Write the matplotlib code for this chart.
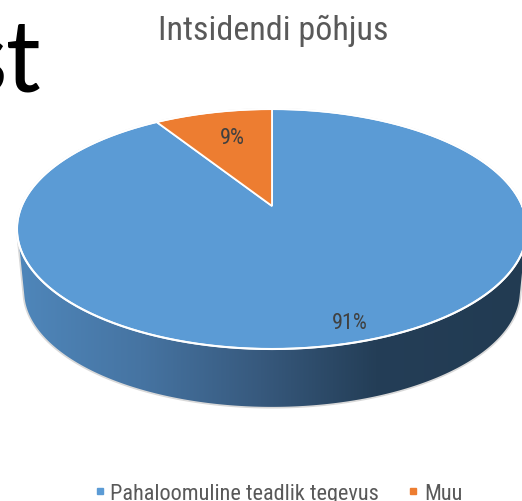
import numpy as np
import matplotlib
matplotlib.use("Agg")
import matplotlib.pyplot as plt
from matplotlib.patches import Polygon
from matplotlib.colors import LinearSegmentedColormap

# data
labels = ["Pahaloomuline teadlik tegevus", "Muu"]
values = [91, 9]
pct_text = ["91%", "9%"]
title = "Intsidendi põhjus"

colors = ["#5B9BD5", "#ED7D31"]
narrow = ["Roboto Condensed", "DejaVu Sans"]

# perspective pie geometry (pixels)
cx, cy = 272, 207
A, B, p = 250.3, 115.6, 0.1917
depth, shrink = 63, 0.975


def proj(theta, r=1.0, bottom=False):
    t = np.radians(theta)
    u, v = r * np.cos(t), r * np.sin(t)
    w = 1 + p * v
    dx, dy = A * u / w, -B * v / w
    if bottom:
        return cx + dx * shrink, cy + dy * 0.97 + depth
    return cx + dx, cy + dy


def hull(pts):
    pts = sorted(map(tuple, pts))
    def cross(o, a, b):
        return (a[0] - o[0]) * (b[1] - o[1]) - (a[1] - o[1]) * (b[0] - o[0])
    lower, upper = [], []
    for q in pts:
        while len(lower) >= 2 and cross(lower[-2], lower[-1], q) <= 0:
            lower.pop()
        lower.append(q)
    for q in reversed(pts):
        while len(upper) >= 2 and cross(upper[-2], upper[-1], q) <= 0:
            upper.pop()
        upper.append(q)
    return lower[:-1] + upper[:-1]


fig = plt.figure(figsize=(5.22, 5.02), dpi=100)
ax = fig.add_axes([0, 0, 1, 1])
ax.set_xlim(0, 522)
ax.set_ylim(502, 0)
ax.axis("off")

th = np.linspace(0, 360, 721)
top = np.array([proj(t) for t in th])
bot = np.array([proj(t, bottom=True) for t in th])
sil = np.array(hull(np.vstack([top, bot])))

# side with horizontal shading
side_cmap = LinearSegmentedColormap.from_list(
    "side", [(0, "#5089BE"), (0.27, "#4674A2"), (0.5, "#37597D"),
             (0.72, "#243E57"), (1, "#223B52")])
grad = np.linspace(0, 1, 256).reshape(1, -1)
im = ax.imshow(grad, cmap=side_cmap, aspect="auto",
               extent=[0, 522, 420, 200], zorder=1)
sil_patch = Polygon(sil, closed=True, facecolor="none",
                    edgecolor="#D9D9D9", lw=1.2, zorder=2)
ax.add_patch(sil_patch)
im.set_clip_path(sil_patch)

# top face wedges, clockwise from 12 o'clock
total = sum(values)
start = 90.0
mids = []
for val, col in zip(values, colors):
    sweep = 360.0 * val / total
    arc = np.linspace(start, start - sweep, 200)
    pts = [(cx, cy)] + [proj(a) for a in arc]
    ax.add_patch(Polygon(pts, closed=True, facecolor=col,
                         edgecolor="white", lw=1.3, zorder=3))
    mids.append(start - sweep / 2)
    start -= sweep

ax.plot(top[:, 0], top[:, 1], color="white", lw=1.5, zorder=4)

label_r = [0.88, 0.7]
for txt, m, r in zip(pct_text, mids, label_r):
    x, y = proj(m, r)
    ax.text(x + 4, y, txt, ha="center", va="center", fontsize=16,
            color="#404040", family=narrow, zorder=5)

ax.text(273, 40, title, ha="center", va="baseline", fontsize=24.5,
        color="#595959", family=narrow)

# partial slide text on the left
ax.text(42, 92, "st", ha="right", va="baseline", fontsize=76,
        color="black", family=["Carlito", "DejaVu Sans"])

# legend
leg_y = 491.5
ax.plot(99.5, leg_y, marker="s", ms=4.5, color=colors[0], lw=0)
ax.text(110, 500, labels[0], ha="left", va="baseline", fontsize=16,
        color="#595959", family=narrow)
ax.plot(413, leg_y, marker="s", ms=4.5, color=colors[1], lw=0)
ax.text(424, 500, labels[1], ha="left", va="baseline", fontsize=16,
        color="#595959", family=narrow)

fig.savefig("out.png", dpi=100)
